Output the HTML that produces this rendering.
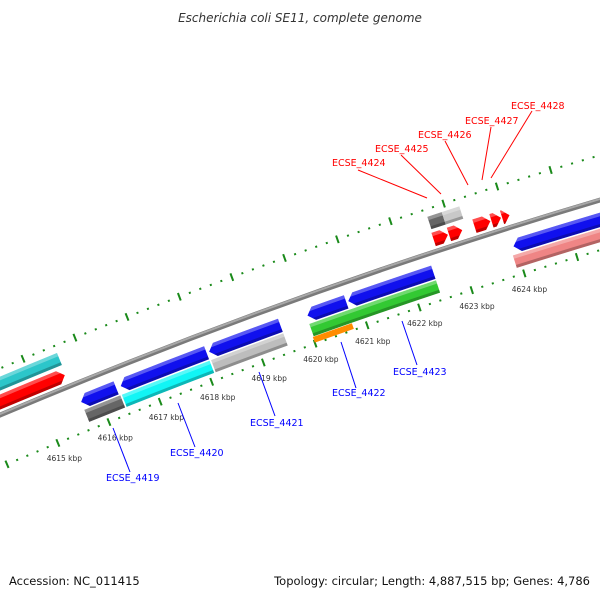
<!DOCTYPE html>
<html><head><meta charset="utf-8"><style>
html,body{margin:0;padding:0;background:#fff;}
svg{display:block;font-family:"DejaVu Sans","Liberation Sans",sans-serif;}
</style></head><body>
<svg id="map" width="600" height="600" viewBox="0 0 600 600" xmlns="http://www.w3.org/2000/svg">
<text x="300" y="22" text-anchor="middle" font-size="12" font-style="italic" fill="#333">Escherichia coli SE11, complete genome</text>
<g id="ticks"></g>
<g id="backbone"></g>
<g id="genes"></g>
<g id="callouts" font-size="9.5">
 <g><line x1="358" y1="170" x2="427" y2="198" stroke="#f00" stroke-width="1"/><text x="332" y="166" fill="#f00">ECSE_4424</text></g>
 <g><line x1="401" y1="155" x2="441" y2="194" stroke="#f00" stroke-width="1"/><text x="375" y="152" fill="#f00">ECSE_4425</text></g>
 <g><line x1="445" y1="141" x2="468" y2="185" stroke="#f00" stroke-width="1"/><text x="418" y="138" fill="#f00">ECSE_4426</text></g>
 <g><line x1="491" y1="127" x2="482" y2="180" stroke="#f00" stroke-width="1"/><text x="465" y="124" fill="#f00">ECSE_4427</text></g>
 <g><line x1="532" y1="111" x2="491" y2="178" stroke="#f00" stroke-width="1"/><text x="511" y="109" fill="#f00">ECSE_4428</text></g>
 <g><line x1="113" y1="428" x2="130" y2="472" stroke="#00f" stroke-width="1"/><text x="106" y="481" fill="#00f">ECSE_4419</text></g>
 <g><line x1="178" y1="403" x2="195" y2="447" stroke="#00f" stroke-width="1"/><text x="170" y="456" fill="#00f">ECSE_4420</text></g>
 <g><line x1="259" y1="372" x2="275" y2="416" stroke="#00f" stroke-width="1"/><text x="250" y="426" fill="#00f">ECSE_4421</text></g>
 <g><line x1="341" y1="342" x2="356" y2="388" stroke="#00f" stroke-width="1"/><text x="332" y="396" fill="#00f">ECSE_4422</text></g>
 <g><line x1="402" y1="321" x2="417" y2="365" stroke="#00f" stroke-width="1"/><text x="393" y="375" fill="#00f">ECSE_4423</text></g>
</g>
<text x="9" y="585" font-size="11.5" fill="#111">Accession: NC_011415</text>
<text x="590" y="585" text-anchor="end" font-size="11.5" fill="#111">Topology: circular; Length: 4,887,515 bp; Genes: 4,786</text>
</svg>
<script>
// data
const geneStart = [4615.67,4616.44,4618.15,4620.04,4620.82,4623.96, 4615.67,4616.40,4618.13,4620.02,4623.90, 4620.00, 4612.0,4622.63,4622.92,4623.40,4623.72,4623.92, 4612.0,4622.65,4622.92];
const geneEnd   = [4616.35,4618.10,4619.52,4620.78,4622.44,4626.5, 4616.37,4618.10,4619.52,4622.44,4626.5, 4620.75, 4615.58,4622.90,4623.17,4623.70,4623.90,4624.06, 4615.60,4622.92,4623.25];
const geneLane  = ['in1','in1','in1','in1','in1','in1','in2','in2','in2','in2','in2','in3','out1','out1','out1','out1','out1','out1','out2','out2','out2'];
const geneStrand= [-1,-1,-1,-1,-1,-1, 0,0,0,0,0, 0, 1,1,1,1,1,1, 0,0,0];
const geneColor = ['#1010ee','#1010ee','#1010ee','#1010ee','#1010ee','#1010ee','#666666','#11f5f5','#bdbdbd','#33c933','#ef8585','#ff8c00','#ff0000','#ff0000','#ff0000','#ff0000','#ff0000','#ff0000','#2cc6ca','#666666','#c8c8c8'];
const kbpLabels = [4615,4616,4617,4618,4619,4620,4621,4622,4623,4624];

// geometry (axis functions)
const CX=2214, CY=5648, R0=5682;
const laneR={in1:5663,in2:5648,in3:5638,out1:5694,out2:5711};
const laneH={in1:14,in2:13,in3:6,out1:14,out2:13};
const T0=-21.94, K0=4616, DEG=0.561;
function theta(k){return (T0+(k-K0)*DEG)*Math.PI/180;}
function pt(r,k){const t=theta(k);return [CX+r*Math.sin(t), CY-r*Math.cos(t)];}
function P(p){return p[0].toFixed(2)+' '+p[1].toFixed(2);}
const NS='http://www.w3.org/2000/svg';
function mk(tag,attrs,parent){const e=document.createElementNS(NS,tag);for(const a in attrs)e.setAttribute(a,attrs[a]);parent.appendChild(e);return e;}
function band(r1,r2,k1,k2){
  return 'M'+P(pt(r2,k1))+' A'+r2+' '+r2+' 0 0 1 '+P(pt(r2,k2))+' L'+P(pt(r1,k2))+' A'+r1+' '+r1+' 0 0 0 '+P(pt(r1,k1))+' Z';
}
function shape(r,h,k1,k2,strand){
  const a=0.12, ro=r+h/2, ri=r-h/2;
  if(strand===0||k2-k1<a) return band(ri,ro,k1,k2);
  if(strand>0){const kb=Math.max(k1,k2-a);
    return 'M'+P(pt(ro,k1))+' A'+ro+' '+ro+' 0 0 1 '+P(pt(ro,kb))+' L'+P(pt(r,k2))+' L'+P(pt(ri,kb))+' A'+ri+' '+ri+' 0 0 0 '+P(pt(ri,k1))+' Z';}
  const kb=Math.min(k2,k1+a);
  return 'M'+P(pt(r,k1))+' L'+P(pt(ro,kb))+' A'+ro+' '+ro+' 0 0 1 '+P(pt(ro,k2))+' L'+P(pt(ri,k2))+' A'+ri+' '+ri+' 0 0 0 '+P(pt(ri,kb))+' Z';
}

// ticks
const tg=document.getElementById('ticks');
[5634,5725].forEach(function(rr){
  for(let i=0;i<=70;i++){
    const k=4613.4+i*0.2; const major=Math.abs(k-Math.round(k))<0.01;
    const a=pt(rr-(major?4:1),k), b=pt(rr+(major?4:1),k);
    const ln=mk('line',{x1:a[0],y1:a[1],x2:b[0],y2:b[1],stroke:'#1a8a1a','stroke-width':2},tg);
    
    
  }
});
kbpLabels.forEach(function(k){
  const p=pt(5617,k);
  const t=mk('text',{x:p[0],y:p[1],'text-anchor':'middle','dominant-baseline':'central','font-size':'7.5',fill:'#333'},tg);
  t.textContent=k+' kbp';
  
  
});

// backbone
const bg=document.getElementById('backbone');
const bb=mk('path',{d:'M'+P(pt(R0,4613))+' A'+R0+' '+R0+' 0 0 1 '+P(pt(R0,4627)),fill:'none',stroke:'#7a7a7a','stroke-width':5},bg);


const bh=mk('path',{d:'M'+P(pt(R0+1,4613))+' A'+(R0+1)+' '+(R0+1)+' 0 0 1 '+P(pt(R0+1,4627)),fill:'none',stroke:'#a8a8a8','stroke-width':2},bg);



// genes
const gg=document.getElementById('genes');
for(let i=0;i<geneStart.length;i++){
  const r=laneR[geneLane[i]], h=laneH[geneLane[i]];
  const g=mk('g',{},gg);
  
  
  mk('path',{d:shape(r,h,geneStart[i],geneEnd[i],geneStrand[i]),fill:geneColor[i]},g);
  if(h>8){
    const cp='clip'+i;
    const c=mk('clipPath',{id:cp},g);
    mk('path',{d:shape(r,h,geneStart[i],geneEnd[i],geneStrand[i])},c);
    mk('path',{d:band(r+h/2-3.5,r+h/2+1,geneStart[i]-0.2,geneEnd[i]+0.2),fill:'#fff',opacity:0.3,'clip-path':'url(#'+cp+')'},g);
    mk('path',{d:band(r-h/2-1,r-h/2+3,geneStart[i]-0.2,geneEnd[i]+0.2),fill:'#000',opacity:0.25,'clip-path':'url(#'+cp+')'},g);
  }
}
</script>
</body></html>
